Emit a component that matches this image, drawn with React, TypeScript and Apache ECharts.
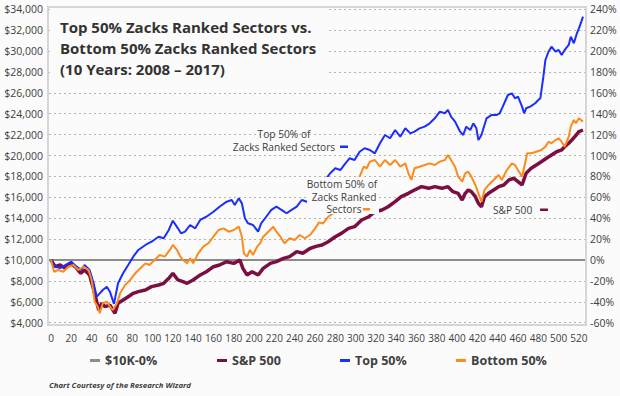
import React, { useEffect, useRef } from "react";
import * as echarts from "echarts";

// ---- data (week index, portfolio value in $) ----
const xTickLabels = [0, 20, 40, 60, 80, 100, 120, 140, 160, 180, 200, 220, 240, 260, 280, 300, 320, 340, 360, 380, 400, 420, 440, 460, 480, 500, 520];

const baseWeeks = [-2, 526];
const baseValue = 10000;

const spData: [number, number][] = [
  [0, 10000], [4, 9360], [9, 9520], [14, 9200], [19, 9680], [24, 9360], [29, 8730], [33, 9040], [38, 8570],
  [43, 6810], [47, 5210], [50, 5860], [53, 5530], [58, 5690], [61, 5210], [63, 4900], [66, 5860], [71, 6170],
  [76, 6490], [81, 6810], [86, 6970], [93, 7130], [99, 7450], [106, 7610], [111, 7770], [116, 8250], [120, 8730],
  [125, 8090], [130, 7930], [134, 7770], [140, 8090], [147, 8570], [153, 8880], [160, 9360], [166, 9520],
  [173, 9840], [180, 9680], [186, 10000], [189, 9200], [193, 8570], [198, 8880], [204, 8570], [209, 9200],
  [216, 9680], [222, 9840], [229, 10160], [235, 10320], [242, 10800], [248, 10640], [255, 11100], [261, 11300],
  [267, 11440], [273, 11750], [280, 12230], [286, 12550], [293, 13030], [299, 13190], [306, 13830], [313, 14140],
  [319, 14620], [326, 14790], [332, 15100], [339, 15580], [345, 16060], [352, 16380], [358, 16700], [365, 17020],
  [372, 16860], [378, 17020], [385, 16860], [391, 17020], [396, 16540], [401, 16380], [405, 15740], [408, 16380],
  [411, 16700], [414, 16540], [418, 16060], [421, 15420], [424, 15100], [427, 16060], [431, 16380], [436, 16700],
  [441, 17020], [446, 17180], [451, 17660], [456, 17820], [460, 17500], [464, 17180], [468, 18300], [473, 18780],
  [478, 19090], [483, 19410], [488, 19730], [493, 20050], [498, 20360], [503, 20530], [506, 20850], [510, 21170],
  [513, 21480], [516, 21800], [520, 22280], [524, 22440],
];

const topData: [number, number][] = [
  [0, 10000], [4, 9360], [9, 9230], [14, 9520], [20, 9840], [25, 9360], [30, 9040], [33, 9520], [38, 9040],
  [42, 7770], [45, 6490], [48, 6810], [51, 7130], [55, 7450], [58, 6970], [62, 5800], [66, 7770], [71, 8730],
  [76, 9520], [81, 10320], [86, 10960], [93, 11440], [99, 11750], [106, 12230], [111, 12080], [116, 12870],
  [120, 13760], [125, 13030], [128, 12550], [132, 12710], [137, 13350], [142, 13030], [147, 13830], [153, 14140],
  [160, 14620], [166, 15100], [173, 15580], [178, 15740], [181, 15260], [185, 15900], [188, 15420], [191, 13990],
  [194, 13510], [199, 13350], [204, 12710], [207, 13510], [212, 14140], [217, 14790], [222, 15100], [227, 14790],
  [232, 14470], [237, 14790], [242, 15100], [247, 15740], [252, 15580], [257, 15420], [263, 16500], [270, 17660],
  [275, 18300], [280, 18780], [285, 18610], [290, 19250], [294, 19730], [299, 19570], [304, 20360], [309, 20690],
  [314, 20530], [319, 20210], [324, 21170], [329, 21960], [334, 21650], [339, 22440], [344, 21800], [349, 22600],
  [354, 22120], [358, 22280], [363, 22600], [368, 22760], [373, 23080], [378, 23560], [383, 24200], [388, 24040],
  [391, 24360], [394, 23720], [398, 23240], [403, 22280], [406, 21960], [409, 22760], [413, 22440], [416, 23080],
  [419, 22600], [421, 21480], [424, 21960], [426, 22600], [429, 23560], [434, 23880], [439, 23880], [442, 24040],
  [445, 24680], [450, 25790], [454, 25950], [457, 25470], [460, 25630], [464, 24680], [466, 24040], [468, 24520],
  [472, 24680], [477, 25000], [480, 25310], [482, 25470], [485, 27540], [487, 29140], [490, 29930], [493, 30410],
  [497, 29930], [500, 30100], [503, 29620], [506, 30100], [510, 30580], [512, 31370], [515, 30740], [518, 31690],
  [520, 32170], [523, 32970], [524, 33290],
];

const bottomData: [number, number][] = [
  [0, 10000], [3, 8880], [7, 9040], [12, 8880], [17, 9360], [22, 9520], [27, 9040], [32, 9360], [37, 9040],
  [40, 8090], [43, 6010], [46, 5530], [48, 4900], [51, 5860], [55, 6010], [58, 5530], [61, 5210], [65, 5860],
  [68, 6810], [73, 7610], [78, 8090], [83, 8730], [88, 9210], [93, 9680], [97, 9520], [102, 10000], [107, 10480],
  [112, 10320], [117, 10960], [120, 11440], [124, 10960], [127, 10400], [130, 10000], [134, 9680], [137, 10160],
  [140, 9680], [145, 10640], [150, 11280], [155, 11600], [160, 12230], [165, 12870], [170, 13030], [175, 12710],
  [180, 12870], [185, 13190], [188, 12230], [190, 10640], [193, 10320], [196, 10960], [199, 10480], [203, 11280],
  [206, 11600], [209, 12230], [214, 12710], [219, 13190], [222, 12710], [226, 12230], [230, 11600], [235, 12080],
  [240, 11920], [245, 12390], [250, 12080], [255, 12390], [260, 13000], [264, 13600], [268, 13500], [273, 14140],
  [278, 14470], [286, 15580], [296, 16860], [304, 17980], [308, 18930], [311, 18780], [314, 19410], [319, 19570],
  [324, 18930], [329, 19570], [334, 19090], [339, 19570], [344, 18930], [349, 19250], [352, 18300], [355, 17660],
  [358, 18780], [363, 18930], [368, 19090], [373, 19250], [378, 19090], [383, 19410], [388, 19570], [391, 20050],
  [395, 19410], [398, 18930], [401, 17980], [405, 17500], [408, 18300], [411, 18450], [414, 17980], [418, 17180],
  [421, 16380], [424, 15580], [427, 16700], [431, 17180], [436, 17660], [441, 18140], [444, 17660], [449, 18610],
  [454, 19250], [457, 19090], [460, 18610], [464, 17980], [467, 19250], [469, 20210], [473, 20210], [478, 20360],
  [483, 20530], [487, 20850], [490, 21320], [493, 21170], [497, 21480], [500, 21650], [503, 21320], [506, 20850],
  [510, 21800], [512, 22760], [515, 23400], [517, 23080], [520, 23560], [524, 23240],
];

const seriesNames = ["$10K-0%", "S&P 500", "Top 50%", "Bottom 50%"];
const titleLines = ["Top 50% Zacks Ranked Sectors vs.", "Bottom 50% Zacks Ranked Sectors", "(10 Years: 2008 \u2013 2017)"];

const COLORS = { base: "#8c8c8c", sp: "#7b0f42", top: "#1a2eff", bottom: "#fb8b1c" };
const BG = "#fbfbfb";
const FONT = "'Open Sans', 'Noto Sans', sans-serif";
const TXT = "#404040";

function annText(text: string, x: number, y: number, align: string = "center") {
  return {
    type: "text",
    z: 101,
    x,
    y,
    style: { text, fontSize: 10.2, fontFamily: FONT, fill: TXT, align, verticalAlign: "middle" },
  };
}

export default function App() {
  const ref = useRef<HTMLDivElement>(null);
  useEffect(() => {
    if (!ref.current) return;
    const chart = echarts.init(ref.current, undefined, { renderer: "svg" });
    const option: any = {
      animation: false,
      backgroundColor: BG,
      textStyle: { fontFamily: FONT },
      grid: { left: 49, right: 35, top: 9.2, bottom: 73.3, containLabel: false },
      xAxis: {
        type: "value",
        min: -2,
        max: 526,
        axisLine: { show: false },
        axisTick: { show: false },
        splitLine: { show: false },
        axisLabel: { customValues: xTickLabels, margin: 10, fontSize: 10, color: TXT, fontFamily: FONT },
      },
      yAxis: [
        {
          type: "value",
          min: 4000,
          max: 34000,
          interval: 2000,
          position: "left",
          axisLine: { show: false },
          axisTick: { show: false },
          axisLabel: {
            margin: 6,
            fontSize: 10.5,
            color: TXT,
            fontFamily: FONT,
            formatter: (v: number) => "$" + v.toLocaleString("en-US"),
          },
          splitLine: { show: true, lineStyle: { color: "#b3b3b3", type: [2, 3], width: 1 } },
        },
        {
          type: "value",
          min: -60,
          max: 240,
          interval: 20,
          position: "right",
          axisLine: { show: false },
          axisTick: { show: false },
          splitLine: { show: false },
          axisLabel: { margin: 5, fontSize: 10.5, color: TXT, fontFamily: FONT, formatter: (v: number) => v + "%" },
        },
      ],
      legend: seriesNames.map((name, i) => ({
        data: [name],
        left: [90, 217, 340, 456][i],
        top: 354,
        padding: 0,
        icon: "rect",
        itemWidth: 10,
        itemHeight: 3,
        selectedMode: false,
        itemStyle: { borderWidth: 0 },
        lineStyle: { width: 0, opacity: 0 },
        textStyle: { fontSize: 12.5, fontWeight: "bold", color: TXT, fontFamily: FONT },
      })),
      series: [
        {
          name: seriesNames[0],
          type: "line",
          showSymbol: false,
          data: baseWeeks.map((w) => [w, baseValue]),
          lineStyle: { color: COLORS.base, width: 2 },
          itemStyle: { color: COLORS.base },
        },
        {
          name: seriesNames[1],
          type: "line",
          showSymbol: false,
          data: spData,
          lineStyle: { color: COLORS.sp, width: 3.5 },
          itemStyle: { color: COLORS.sp },
        },
        {
          name: seriesNames[2],
          type: "line",
          showSymbol: false,
          data: topData,
          lineStyle: { color: COLORS.top, width: 2 },
          itemStyle: { color: COLORS.top },
        },
        {
          name: seriesNames[3],
          type: "line",
          showSymbol: false,
          data: bottomData,
          lineStyle: { color: COLORS.bottom, width: 2 },
          itemStyle: { color: COLORS.bottom },
        },
      ],
      graphic: [
        // plot frame
        { type: "rect", z: 100, shape: { x: 48, y: 7, width: 538, height: 318 }, style: { fill: "none", stroke: "#d6d6d6", lineWidth: 2 } },
        // title box
        { type: "rect", z: 99, shape: { x: 50, y: 8, width: 277, height: 76 }, style: { fill: BG } },
        {
          type: "text",
          z: 101,
          x: 60,
          y: 16,
          style: { text: titleLines.join("\n"), fontSize: 15, fontWeight: "bold", fontFamily: FONT, fill: "#333333", lineHeight: 21 },
        },
        // annotation: Top 50%
        annText("Top 50% of", 284, 134),
        annText("Zacks Ranked Sectors", 284, 146.5),
        { type: "rect", z: 102, shape: { x: 340, y: 145.5, width: 8, height: 2.5 }, style: { fill: COLORS.top } },
        // annotation: Bottom 50%
        { type: "rect", z: 99, shape: { x: 307, y: 177, width: 72, height: 37 }, style: { fill: BG } },
        annText("Bottom 50% of", 342, 184),
        annText("Zacks Ranked", 344, 196.5),
        annText("Sectors", 344, 209),
        { type: "rect", z: 102, shape: { x: 363, y: 208, width: 7, height: 2.5 }, style: { fill: COLORS.bottom } },
        // annotation: S&P 500
        { type: "rect", z: 99, shape: { x: 490, y: 203, width: 60, height: 13 }, style: { fill: BG } },
        annText("S&P 500", 493, 209.5, "left"),
        { type: "rect", z: 102, shape: { x: 540, y: 208.5, width: 8, height: 2.5 }, style: { fill: COLORS.sp } },
        // footer
        {
          type: "text",
          z: 101,
          x: 49,
          y: 381,
          style: {
            text: "Chart Courtesy of the Research Wizard",
            fontSize: 7.8,
            fontStyle: "italic",
            fontWeight: "bold",
            fontFamily: FONT,
            fill: TXT,
          },
        },
      ],
    };
    chart.setOption(option);
    return () => chart.dispose();
  }, []);
  return <div ref={ref} style={{ width: 620, height: 396, position: "absolute", left: 0, top: 0 }} />;
}
